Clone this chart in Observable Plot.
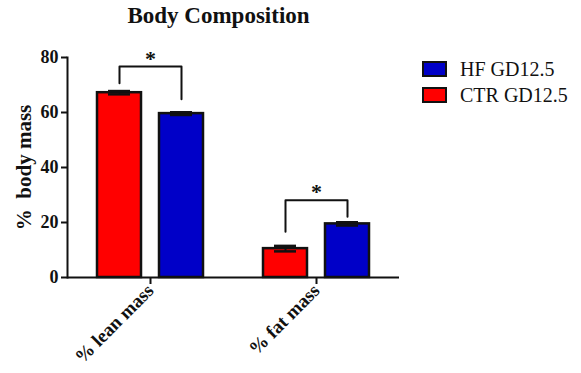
<!DOCTYPE html>
<html>
<head>
<meta charset="utf-8">
<script src="https://cdn.jsdelivr.net/npm/d3@7"></script>
<script src="https://cdn.jsdelivr.net/npm/@observablehq/plot@0.6"></script>
<style>
  html, body { margin: 0; padding: 0; background: #fff; }
  #wrap { position: relative; width: 581px; height: 373px; font-family: "Liberation Serif", "DejaVu Serif", serif; }
  #title { position: absolute; left: 0; width: 437px; top: 3px; text-align: center; font-weight: bold; font-size: 23px; color: #111; }
  #legend { position: absolute; left: 422px; top: 56px; font-size: 20px; color: #111; }
  .item { display: flex; align-items: center; height: 26px; }
  .sw { width: 21px; height: 12px; border: 2px solid #111; margin-right: 13px; }
  svg text { font-family: "Liberation Serif", "DejaVu Serif", serif; }
</style>
</head>
<body>
<div id="wrap">
  <div id="title">Body Composition</div>
  <div id="legend"></div>
</div>
<script>
// Body composition at GD12.5: mean ± SEM per group
const categories = ["% lean mass", "% fat mass"];
const groups = ["CTR GD12.5", "HF GD12.5"];
const legendOrder = ["HF GD12.5", "CTR GD12.5"];
const groupColors = ["#ff0000", "#0000c8"];
const ctrMean = [67.2, 10.5];
const ctrSem = [0.6, 1.0];
const hfMean = [59.6, 19.5];
const hfSem = [0.5, 0.6];
const yTicks = [0, 20, 40, 60, 80];

// Significance brackets: left leg end, bar height, right leg end
const bracketLeft = [70.6, 16.6];
const bracketTop = [76.7, 28.1];
const bracketRight = [64.8, 22.1];
const starText = ["*", "*"];

const serif = "'Liberation Serif', 'DejaVu Serif', serif";

const rows = [];
categories.forEach((c, i) => {
  rows.push({cat: c, group: groups[0], mean: ctrMean[i], sem: ctrSem[i]});
  rows.push({cat: c, group: groups[1], mean: hfMean[i], sem: hfSem[i]});
});

const bracketPts = [];
categories.forEach((c, i) => {
  bracketPts.push({cat: c, group: groups[0], y: bracketLeft[i]});
  bracketPts.push({cat: c, group: groups[0], y: bracketTop[i]});
  bracketPts.push({cat: c, group: groups[1], y: bracketTop[i]});
  bracketPts.push({cat: c, group: groups[1], y: bracketRight[i]});
});
const stars = categories.map((c, i) => ({cat: c, y: bracketTop[i], text: starText[i]}));

const chart = Plot.plot({
  width: 581,
  height: 373,
  marginTop: 57,
  marginBottom: 96,
  marginLeft: 67,
  marginRight: 182,
  style: {fontFamily: serif, color: "#111", background: "transparent"},
  fx: {domain: categories, padding: 0, label: null},
  x: {domain: groups, paddingInner: 0.29, paddingOuter: 0.475, axis: null},
  y: {domain: [0, 80], label: null},
  color: {domain: groups, range: groupColors},
  marks: [
    Plot.barY(rows, {fx: "cat", x: "group", y: "mean", fill: "group", stroke: "#111", strokeWidth: 2.5}),
    Plot.ruleX(rows, {fx: "cat", x: "group", y1: d => d.mean - d.sem, y2: d => d.mean + d.sem, stroke: "#111", strokeWidth: 2}),
    Plot.tickY(rows, {fx: "cat", x: "group", y: d => d.mean + d.sem, insetLeft: 11, insetRight: 11, stroke: "#111", strokeWidth: 2.5}),
    Plot.tickY(rows, {fx: "cat", x: "group", y: d => d.mean - d.sem, insetLeft: 11, insetRight: 11, stroke: "#111", strokeWidth: 2.5}),
    Plot.line(bracketPts, {fx: "cat", x: "group", y: "y", z: "cat", stroke: "#111", strokeWidth: 2}),
    Plot.text(stars, {fx: "cat", y: "y", text: "text", fontFamily: serif, fontSize: 22, fontWeight: "bold", dy: -1, lineAnchor: "bottom", fill: "#111"}),
    Plot.ruleY([0], {stroke: "#111", strokeWidth: 2}),
    Plot.frame({anchor: "left", facetAnchor: "left", stroke: "#111", strokeWidth: 2}),
    Plot.axisY({ticks: yTicks, tickSize: 6, tickPadding: 3, strokeWidth: 2, fontFamily: serif, fontSize: 18, fontWeight: "bold", label: "%  body mass", labelAnchor: "center", labelArrow: "none", labelOffset: 51}),
    Plot.axisFx({anchor: "bottom", tickRotate: -45, tickSize: 7, tickPadding: 3, strokeWidth: 2, fontFamily: serif, fontSize: 19, fontWeight: "bold", label: null})
  ]
});
document.getElementById("wrap").prepend(chart);
chart.style.position = "absolute";
chart.style.left = "0";
chart.style.top = "0";
// enlarge the rotated y-axis title relative to the tick labels
chart.querySelectorAll("[aria-label='y-axis label'] text").forEach(t => t.setAttribute("font-size", 21));

const legend = document.getElementById("legend");
legendOrder.forEach(g => {
  const item = document.createElement("div");
  item.className = "item";
  const sw = document.createElement("div");
  sw.className = "sw";
  sw.style.background = groupColors[groups.indexOf(g)];
  const t = document.createElement("span");
  t.textContent = g;
  item.append(sw, t);
  legend.append(item);
});
</script>
</body>
</html>
